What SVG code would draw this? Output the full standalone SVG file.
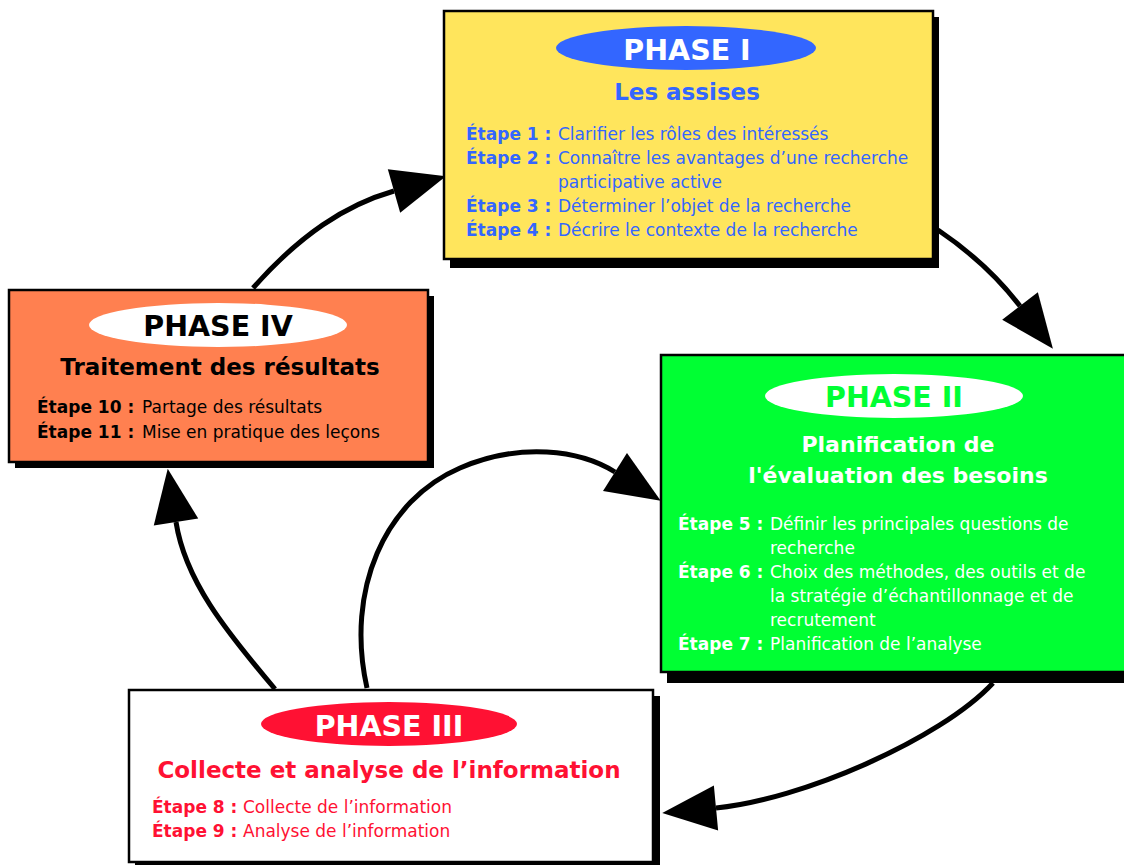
<svg xmlns="http://www.w3.org/2000/svg" width="1124" height="865" viewBox="0 0 1124 865">
<style>
.box{stroke:#000;stroke-width:2.5}
.shadow{fill:#000}
.ph{font-family:"DejaVu Sans","Liberation Sans",sans-serif;font-weight:bold;font-size:28.5px;text-anchor:middle}
.ttl{font-family:"DejaVu Sans","Liberation Sans",sans-serif;font-weight:bold;font-size:23px;text-anchor:middle}
.st{font-family:"DejaVu Sans","Liberation Sans",sans-serif;font-size:17px}
.lb{font-weight:bold}
.conn{fill:none;stroke:#000;stroke-width:5}
</style>
<defs>
<marker id="ah" markerUnits="userSpaceOnUse" markerWidth="56" markerHeight="48" refX="0" refY="22.5" orient="auto" overflow="visible">
<path d="M0,0 L54,22.5 L0,45 z" fill="#000"/>
</marker>
</defs>
<rect width="1124" height="865" fill="#fff"/>
<g id="connectors">
<path class="conn" d="M253,288 C300,235 345,205 394,191" marker-end="url(#ah)"/>
<path class="conn" d="M938,230 C975,255 1000,280 1020,306" marker-end="url(#ah)"/>
<path class="conn" d="M993,683 C940,740 800,800 716,808" marker-end="url(#ah)"/>
<path class="conn" d="M275,689 C225,630 185,580 176,522" marker-end="url(#ah)"/>
<path class="conn" d="M367,688 C345,590 385,500 460,468 C520,442 580,450 615,472" marker-end="url(#ah)"/>
</g>
<g id="phase1">
<rect class="shadow" x="450" y="17" width="489" height="251"/>
<rect class="box" x="444" y="11" width="489" height="248" fill="#FFE55C"/>
<ellipse cx="686" cy="48" rx="130" ry="22" fill="#3366FF"/>
<text class="ph" x="687" y="60" fill="#fff">PHASE I</text>
<text class="ttl" x="687" y="100" fill="#3366FF">Les assises</text>
<g class="st" fill="#3366FF">
<text x="466" y="140" class="lb">Étape 1 :</text><text x="558" y="140">Clarifier les rôles des intéressés</text>
<text x="466" y="164" class="lb">Étape 2 :</text><text x="558" y="164">Connaître les avantages d’une recherche</text>
<text x="558" y="188">participative active</text>
<text x="466" y="212" class="lb">Étape 3 :</text><text x="558" y="212">Déterminer l’objet de la recherche</text>
<text x="466" y="236" class="lb">Étape 4 :</text><text x="558" y="236">Décrire le contexte de la recherche</text>
</g>
</g>
<g id="phase2">
<rect class="shadow" x="667" y="361" width="480" height="322"/>
<rect class="box" x="661" y="355" width="480" height="317" fill="#00FF33"/>
<ellipse cx="894" cy="396" rx="129" ry="22" fill="#fff"/>
<text class="ph" x="894" y="407" fill="#00FF33">PHASE II</text>
<text class="ttl" x="898" y="452" fill="#fff" style="font-size:22px">Planification de</text>
<text class="ttl" x="898" y="483" fill="#fff" style="font-size:22px">l'évaluation des besoins</text>
<g class="st" fill="#fff">
<text x="678" y="530" class="lb">Étape 5 :</text><text x="770" y="530">Définir les principales questions de</text>
<text x="770" y="554">recherche</text>
<text x="678" y="578" class="lb">Étape 6 :</text><text x="770" y="578">Choix des méthodes, des outils et de</text>
<text x="770" y="602">la stratégie d’échantillonnage et de</text>
<text x="770" y="626">recrutement</text>
<text x="678" y="650" class="lb">Étape 7 :</text><text x="770" y="650">Planification de l’analyse</text>
</g>
</g>
<g id="phase3">
<rect class="shadow" x="135" y="696" width="525" height="175"/>
<rect class="box" x="129" y="690" width="524" height="172" fill="#fff"/>
<ellipse cx="389" cy="724" rx="128" ry="22" fill="#FF1133"/>
<text class="ph" x="389" y="736" fill="#fff">PHASE III</text>
<text class="ttl" x="389" y="778" fill="#FF1133">Collecte et analyse de l’information</text>
<g class="st" fill="#FF1133">
<text x="152" y="813" class="lb">Étape 8 :</text><text x="243" y="813">Collecte de l’information</text>
<text x="152" y="837" class="lb">Étape 9 :</text><text x="243" y="837">Analyse de l’information</text>
</g>
</g>
<g id="phase4">
<rect class="shadow" x="15" y="296" width="419" height="172"/>
<rect class="box" x="9" y="290" width="419" height="172" fill="#FF8050"/>
<ellipse cx="218" cy="325" rx="129" ry="22" fill="#fff"/>
<text class="ph" x="218" y="336" fill="#000">PHASE IV</text>
<text class="ttl" x="220" y="375" fill="#000">Traitement des résultats</text>
<g class="st" fill="#000">
<text x="37" y="413" class="lb">Étape 10 :</text><text x="142" y="413">Partage des résultats</text>
<text x="37" y="438" class="lb">Étape 11 :</text><text x="142" y="438">Mise en pratique des leçons</text>
</g>
</g>
</svg>
